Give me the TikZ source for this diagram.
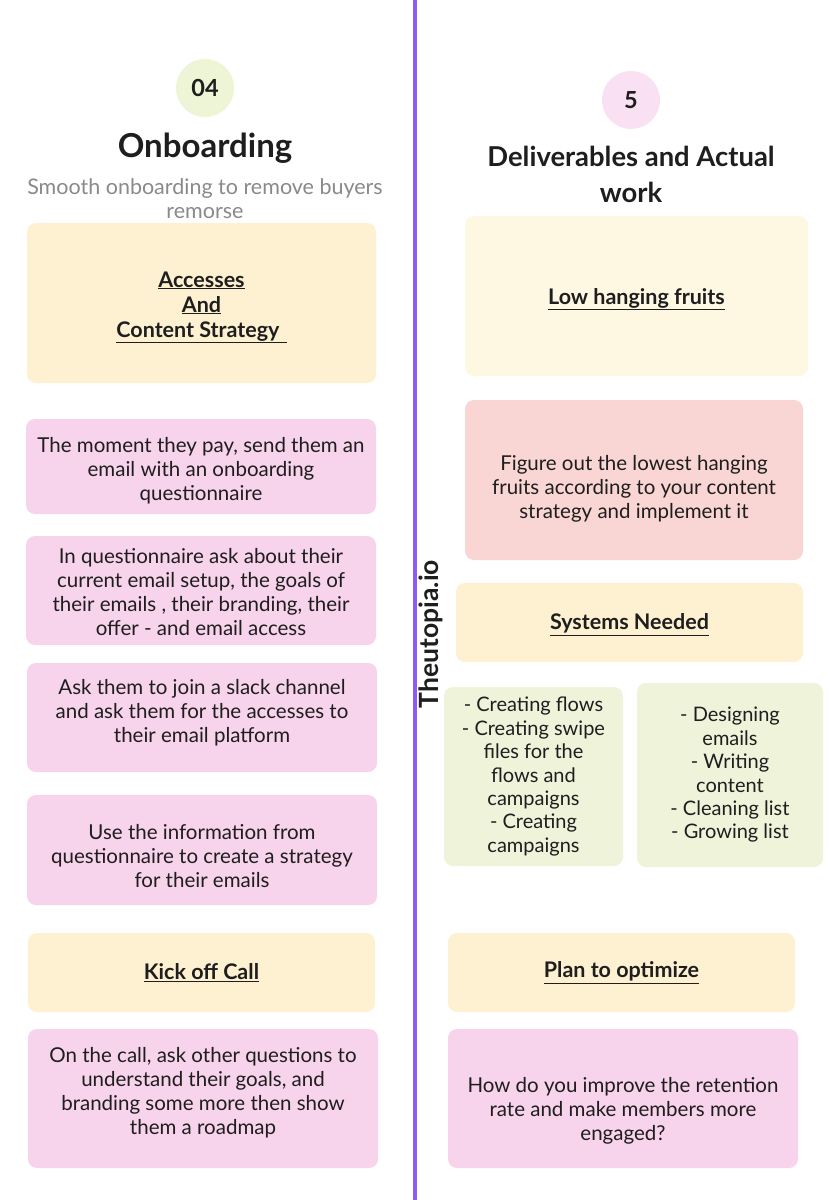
\documentclass[tikz,border=0pt]{standalone}
\usepackage{fontspec}
\setmainfont{Lato}
\usepackage{tikz}
\usetikzlibrary{positioning}
\definecolor{violetx}{HTML}{8B5CF6}
\definecolor{inkx}{HTML}{1E1E1E}
\definecolor{greyx}{HTML}{8A8A8A}
\definecolor{yellowx}{HTML}{FDF1D2}
\definecolor{paleyx}{HTML}{FEF8E2}
\definecolor{pinkx}{HTML}{F8D3EC}
\definecolor{salmonx}{HTML}{F9D6D4}
\definecolor{greenx}{HTML}{EFF3DA}
\definecolor{roundg}{HTML}{EEF4D6}
\definecolor{roundp}{HTML}{F9E1F3}
\tikzset{
  card/.style={rounded corners=9pt,inner sep=0pt,align=center,text=inkx,font=\fontsize{20.5}{24}\selectfont},
  head/.style={card,font=\bfseries\fontsize{21.5}{25}\selectfont},
  list/.style={card,fill=greenx,font=\fontsize{20}{23.4}\selectfont},
  num/.style={circle,minimum size=58pt,inner sep=0pt,text=inkx,font=\bfseries\fontsize{23.5}{24}\selectfont}
}
\newcommand{\ul}[1]{\underline{#1}}
% struts to nudge a block of text down / up inside its card
\newcommand{\lowerby}[1]{\rule{0pt}{#1}}
\newcommand{\raiseby}[1]{\rule[-#1]{0pt}{#1}}

\begin{document}
\begin{tikzpicture}[x=1pt,y=-1pt]
\useasboundingbox[fill=white] (0,0) rectangle (830,1200);
\coordinate (top) at (415,0);
\coordinate (bot) at (415,1200);
\draw[violetx,line width=3.5pt] (top) -- (bot);
\node[rotate=90,text=inkx,font=\bfseries\fontsize{26.5}{26}\selectfont] (brand) at (431,634) {Theutopia.io};
% left column
\node[num,fill=roundg] (n4) at (205,88) {04};
\node[text=inkx,font=\bfseries\fontsize{33}{33}\selectfont] (onb) at (205,148) {Onboarding};
\node[align=center,text=greyx,font=\fontsize{21.5}{24}\selectfont] (sub) at (205,199) {Smooth onboarding to remove buyers\\remorse};
\node[head,fill=yellowx,minimum width=349pt,minimum height=160pt] (acc) at (201.5,303) {\lowerby{24pt}\ul{Accesses}\\\ul{And}\\\ul{Content Strategy\,\,}};
\node[card,fill=pinkx,minimum width=350pt,minimum height=95pt] (pay) at (201,466.5) {\lowerby{23pt}The moment they pay, send them an\\email with an onboarding\\questionnaire};
\node[card,fill=pinkx,minimum width=350pt,minimum height=109pt] (quest) at (201,590.5) {\lowerby{19pt}In questionnaire ask about their\\current email setup, the goals of\\their emails , their branding, their\\offer - and email access};
\node[card,fill=pinkx,minimum width=350pt,minimum height=109pt] (slack) at (202,717.5) {Ask them to join a slack channel\\and ask them for the accesses to\\their email platform\raiseby{13pt}};
\node[card,fill=pinkx,minimum width=350pt,minimum height=110pt] (info) at (202,850) {\lowerby{27pt}Use the information from\\questionnaire to create a strategy\\for their emails};
\node[head,fill=yellowx,minimum width=347pt,minimum height=79pt] (kick) at (201.5,972.5) {\ul{Kick off Call}};
\node[card,fill=pinkx,minimum width=350pt,minimum height=139pt] (call) at (203,1098.5) {On the call, ask other questions to\\understand their goals, and\\branding some more then show\\them a roadmap\raiseby{14.5pt}};
% right column
\node[num,fill=roundp] (n5) at (631,100) {5};
\node[align=center,text=inkx,font=\bfseries\fontsize{27.4}{36}\selectfont] (deliv) at (631,174) {Deliverables and Actual\\work};
\node[head,fill=paleyx,minimum width=343pt,minimum height=160pt] (low) at (636.5,296) {\lowerby{22pt}\ul{Low hanging fruits}};
\node[card,fill=salmonx,minimum width=338pt,minimum height=160pt] (fig) at (634,480) {\lowerby{32pt}Figure out the lowest hanging\\fruits according to your content\\strategy and implement it};
\node[head,fill=yellowx,minimum width=347pt,minimum height=79pt] (sys) at (629.5,622.5) {\lowerby{20pt}\ul{Systems Needed}};
\node[list,minimum width=179pt,minimum height=179pt] (flowa) at (533.5,776.5) {- Creating flows\\- Creating swipe\\files for the\\flows and\\campaigns\\- Creating\\campaigns};
\node[list,minimum width=186pt,minimum height=184pt] (flowb) at (730,775) {- Designing\\emails\\- Writing\\content\\- Cleaning list\\- Growing list};
\node[head,fill=yellowx,minimum width=347pt,minimum height=79pt] (plan) at (621.5,972.5) {\ul{Plan to optimize}};
\node[card,fill=pinkx,minimum width=350pt,minimum height=139pt] (keep) at (623,1098.5) {\lowerby{39pt}How do you improve the retention\\rate and make members more\\engaged?};
\end{tikzpicture}
\end{document}
